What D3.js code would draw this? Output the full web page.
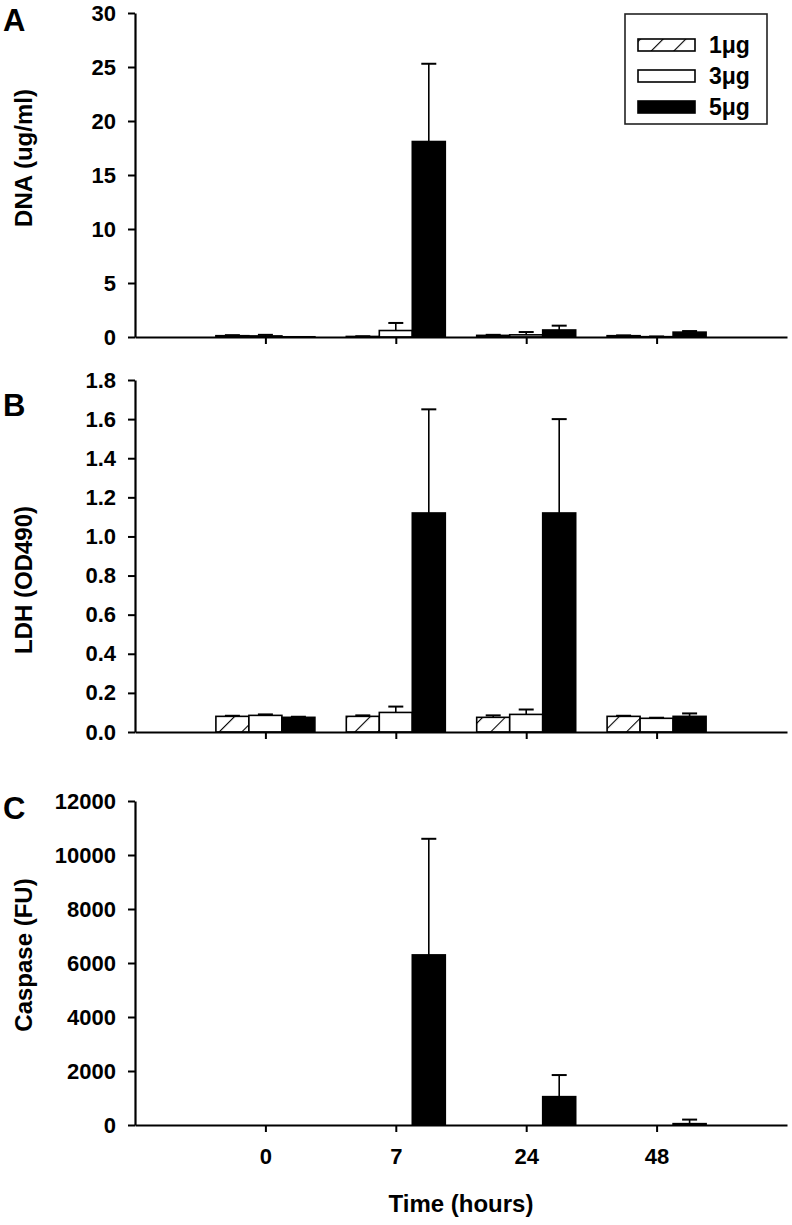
<!DOCTYPE html>
<html><head><meta charset="utf-8">
<script src="https://cdn.jsdelivr.net/npm/d3@7"></script>
<style>
body{margin:0;background:#fff}
svg text{font-family:"Liberation Sans",Arial,Helvetica,sans-serif;font-weight:bold;fill:#000}
</style>
</head><body>
<svg id="chart" width="792" height="1225"></svg>
<script>
// ---------- data ----------
const categories = ["0", "7", "24", "48"];
const series = ["1μg", "3μg", "5μg"];
const panelLetters = ["A", "B", "C"];
const yTitles = ["DNA (ug/ml)", "LDH (OD490)", "Caspase (FU)"];
const xTitle = "Time (hours)";

const dnaTicks = [0, 5, 10, 15, 20, 25, 30];
const ldhTicks = [0, 0.2, 0.4, 0.6, 0.8, 1.0, 1.2, 1.4, 1.6, 1.8];
const casTicks = [0, 2000, 4000, 6000, 8000, 10000, 12000];

// DNA (ug/ml)
const dna1 = [0.12, 0.05, 0.15, 0.12];
const dna1Err = [0.05, 0.02, 0.05, 0.03];
const dna3 = [0.10, 0.60, 0.20, 0.03];
const dna3Err = [0.10, 0.70, 0.26, 0.02];
const dna5 = [0.02, 18.1, 0.65, 0.45];
const dna5Err = [0.00, 7.2, 0.40, 0.10];

// LDH (OD490)
const ldh1 = [0.080, 0.080, 0.075, 0.080];
const ldh1Err = [0.003, 0.005, 0.010, 0.003];
const ldh3 = [0.085, 0.100, 0.090, 0.070];
const ldh3Err = [0.005, 0.030, 0.025, 0.003];
const ldh5 = [0.075, 1.12, 1.12, 0.080];
const ldh5Err = [0.003, 0.53, 0.48, 0.015];

// Caspase (FU)
const cas1 = [0, 0, 0, 0];
const cas1Err = [0, 0, 0, 0];
const cas3 = [0, 0, 0, 0];
const cas3Err = [0, 0, 0, 0];
const cas5 = [0, 6300, 1050, 50];
const cas5Err = [0, 4300, 800, 150];

// ---------- layout ----------
const svg = d3.select("#chart");
const left = 135, right = 787;
const panels = [
  {top: 13,  bottom: 337,  max: 30,    ticks: dnaTicks, fmt: d3.format("d"),
   vals: [dna1, dna3, dna5], errs: [dna1Err, dna3Err, dna5Err], titleY: 158, letterY: 31},
  {top: 380, bottom: 732,  max: 1.8,   ticks: ldhTicks, fmt: d3.format(".1f"),
   vals: [ldh1, ldh3, ldh5], errs: [ldh1Err, ldh3Err, ldh5Err], titleY: 580, letterY: 416},
  {top: 801, bottom: 1125, max: 12000, ticks: casTicks, fmt: d3.format("d"),
   vals: [cas1, cas3, cas5], errs: [cas1Err, cas3Err, cas5Err], titleY: 955, letterY: 819}
];

const defs = svg.append("defs");
const pat = defs.append("pattern").attr("id", "hatch")
  .attr("patternUnits", "userSpaceOnUse").attr("width", 16).attr("height", 16)
  .attr("patternTransform", "rotate(45)");
pat.append("rect").attr("width", 16).attr("height", 16).attr("fill", "#fff");
pat.append("line").attr("x1", 0).attr("y1", 0).attr("x2", 0).attr("y2", 16)
  .attr("stroke", "#000").attr("stroke-width", 2.2);

const fills = ["url(#hatch)", "#fff", "#000"];

const x = d3.scalePoint().domain(categories).range([left, right]).padding(1);
const barW = 33;
const xs = d3.scaleBand().domain(series).range([-1.5 * barW, 1.5 * barW]);

panels.forEach((p, pi) => {
  const y = d3.scaleLinear().domain([0, p.max]).range([p.bottom, p.top]);
  const g = svg.append("g");

  series.forEach((s, si) => {
    categories.forEach((c, ci) => {
      const v = p.vals[si][ci];
      const e = p.errs[si][ci];
      const bx = x(c) + xs(s);
      const cx = bx + barW / 2;
      if (e > 0) {
        g.append("line").attr("x1", cx).attr("x2", cx)
          .attr("y1", y(v)).attr("y2", y(v + e))
          .attr("stroke", "#000").attr("stroke-width", 1.6);
        g.append("line").attr("x1", cx - 7.5).attr("x2", cx + 7.5)
          .attr("y1", y(v + e)).attr("y2", y(v + e))
          .attr("stroke", "#000").attr("stroke-width", 2);
      }
      if (v > 0) {
        g.append("rect").attr("x", bx).attr("width", barW)
          .attr("y", y(v)).attr("height", y(0) - y(v))
          .attr("fill", fills[si]).attr("stroke", "#000").attr("stroke-width", 1.6);
      }
    });
  });

  const ya = g.append("g").attr("transform", `translate(${left},0)`)
    .call(d3.axisLeft(y).tickValues(p.ticks).tickFormat(p.fmt)
      .tickSize(7).tickSizeOuter(0).tickPadding(12));
  ya.selectAll("text").style("font-size", "22px");

  const xa = g.append("g").attr("transform", `translate(0,${p.bottom})`)
    .call(d3.axisBottom(x).tickSize(7).tickSizeOuter(0).tickPadding(16)
      .tickFormat(pi === 2 ? (d => d) : (() => "")));
  xa.selectAll("text").style("font-size", "22px");

  svg.selectAll(".domain").attr("stroke-width", 2.2);
  svg.selectAll(".tick line").attr("stroke-width", 2);

  svg.append("text").attr("transform", `translate(32,${p.titleY}) rotate(-90)`)
    .attr("text-anchor", "middle").style("font-size", "24px").text(yTitles[pi]);
  svg.append("text").attr("x", 3).attr("y", p.letterY)
    .style("font-size", "31px").text(panelLetters[pi]);
});

svg.append("text").attr("x", (left + right) / 2).attr("y", 1212)
  .attr("text-anchor", "middle").style("font-size", "24px").text(xTitle);

// legend
const lg = svg.append("g");
lg.append("rect").attr("x", 625).attr("y", 14).attr("width", 142).attr("height", 110)
  .attr("fill", "#fff").attr("stroke", "#222").attr("stroke-width", 1.6);
series.forEach((s, si) => {
  const cy = 45 + si * 31;
  lg.append("rect").attr("x", 638).attr("y", cy - 6).attr("width", 57).attr("height", 12)
    .attr("fill", fills[si]).attr("stroke", "#000").attr("stroke-width", 1.6);
  lg.append("text").attr("x", 709).attr("y", cy + 8).style("font-size", "23px").text(s);
});
</script>
</body></html>
